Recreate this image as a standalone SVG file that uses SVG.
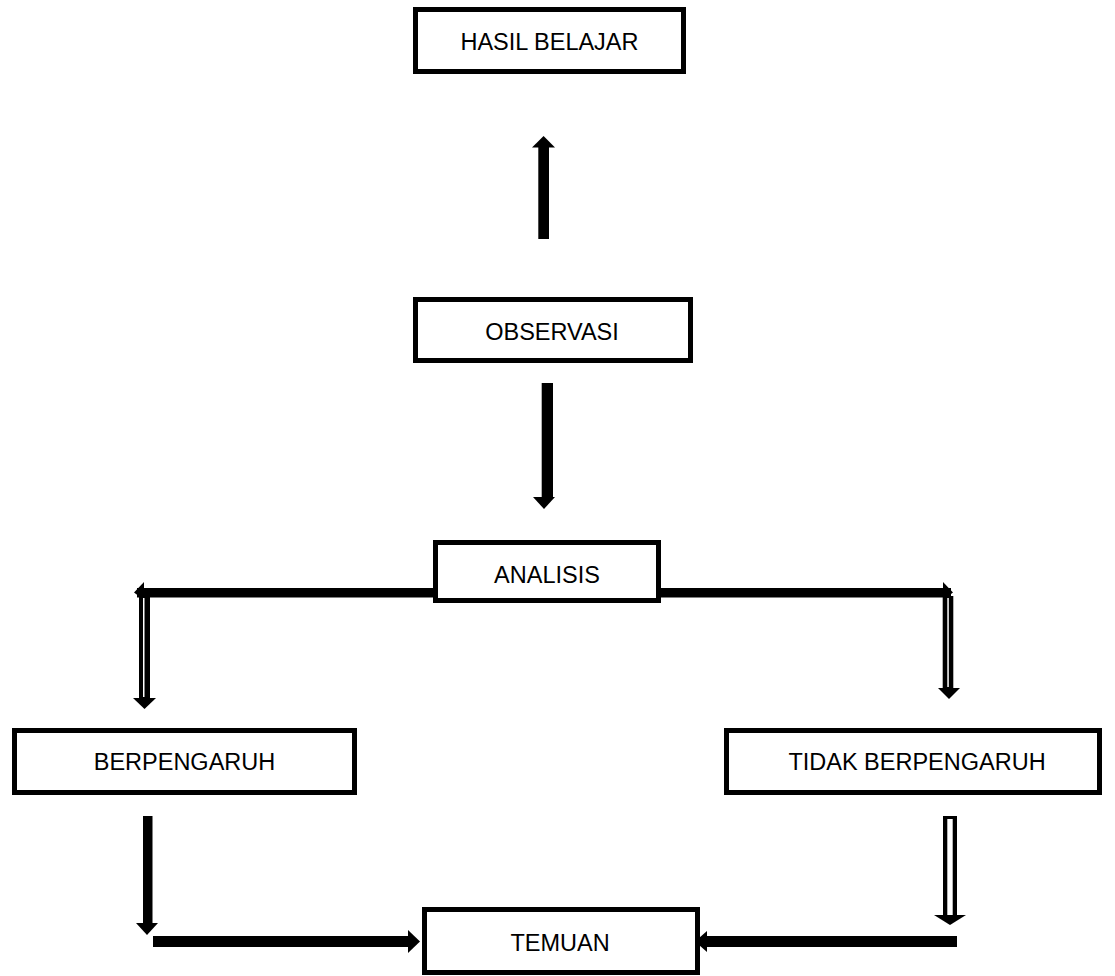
<svg xmlns="http://www.w3.org/2000/svg" width="1115" height="976" viewBox="0 0 1115 976">
  <style>
    .box { fill: #ffffff; stroke: #000000; stroke-width: 5; }
    .lbl { font-family: "Liberation Sans", Arial, sans-serif; font-size: 23.5px; fill: #000000; text-anchor: middle; }
    .blk { fill: #000000; stroke: none; }
    .gap { fill: #ffffff; stroke: none; }
  </style>
  <rect width="1115" height="976" fill="#ffffff"/>
  <g id="nodes">
    <g id="hasil-belajar">
      <rect class="box" x="415.5" y="9.5" width="268" height="62"/>
      <text class="lbl" x="549.5" y="50">HASIL BELAJAR</text>
    </g>
    <g id="observasi">
      <rect class="box" x="415.5" y="299.5" width="275" height="61"/>
      <text class="lbl" x="552" y="340">OBSERVASI</text>
    </g>
    <g id="analisis">
      <rect class="box" x="435.5" y="542.5" width="223" height="58"/>
      <text class="lbl" x="547" y="583">ANALISIS</text>
    </g>
    <g id="berpengaruh">
      <rect class="box" x="14.5" y="730.5" width="340" height="62"/>
      <text class="lbl" x="184.5" y="770">BERPENGARUH</text>
    </g>
    <g id="tidak-berpengaruh">
      <rect class="box" x="726.5" y="730.5" width="373" height="62"/>
      <text class="lbl" x="917" y="770">TIDAK BERPENGARUH</text>
    </g>
    <g id="temuan">
      <rect class="box" x="424.5" y="909.5" width="273" height="63"/>
      <text class="lbl" x="560" y="951">TEMUAN</text>
    </g>
  </g>
  <g id="connectors">
    <!-- observasi -> hasil belajar (up) -->
    <rect class="blk" x="538.3" y="146" width="10.7" height="93"/>
    <polygon class="blk" points="532,147.5 555,147.5 543.6,136"/>
    <!-- observasi -> analisis (down) -->
    <rect class="blk" x="541.7" y="383" width="11.3" height="115"/>
    <polygon class="blk" points="533,497 555,497 544,509"/>
    <!-- analisis -> berpengaruh -->
    <rect class="blk" x="137" y="588" width="298" height="9.5"/>
    <polygon class="blk" points="134,592.5 144,582 144,600"/>
    <rect class="blk" x="139" y="596" width="11" height="103"/>
    <rect class="gap" x="143" y="598" width="1.5" height="99"/>
    <polygon class="blk" points="133,698 156,698 144.5,709"/>
    <!-- analisis -> tidak berpengaruh -->
    <rect class="blk" x="659" y="588" width="292" height="9.5"/>
    <polygon class="blk" points="953,592.5 943,582 943,600"/>
    <rect class="blk" x="942.7" y="596" width="10.6" height="93"/>
    <rect class="gap" x="947.3" y="598" width="1.5" height="89"/>
    <polygon class="blk" points="938,688 960,688 949,699"/>
    <!-- berpengaruh -> temuan -->
    <rect class="blk" x="143" y="816" width="9.5" height="108"/>
    <polygon class="blk" points="136,923 158,923 147,935"/>
    <rect class="blk" x="153" y="936" width="256" height="11"/>
    <polygon class="blk" points="408,930 408,953 420,941.5"/>
    <!-- tidak berpengaruh -> temuan -->
    <rect class="blk" x="943" y="816" width="14" height="100"/>
    <rect class="gap" x="947.3" y="819" width="5.4" height="97"/>
    <polygon class="blk" points="934,915 966,915 950,925"/>
    <rect class="blk" x="704" y="936" width="253" height="11"/>
    <polygon class="blk" points="695,941.5 707,931 707,952"/>
  </g>
</svg>
